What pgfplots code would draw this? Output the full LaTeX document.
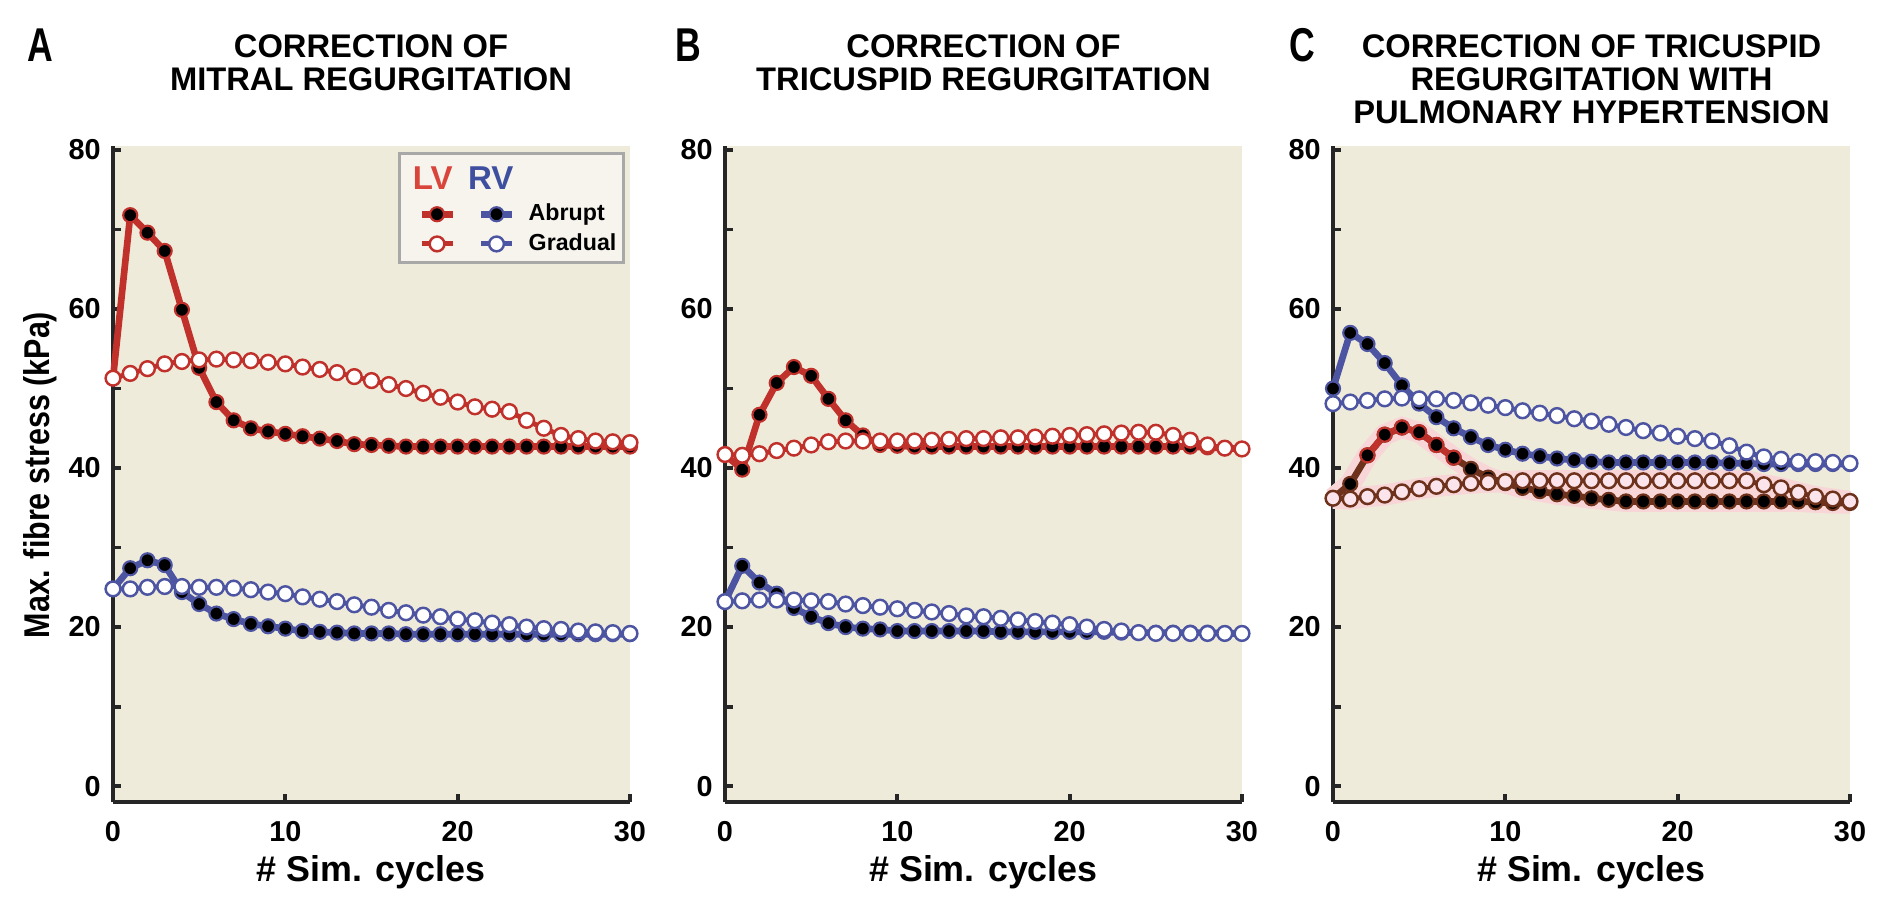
\documentclass[border=0pt]{standalone}
\usepackage{fontspec}
\setmainfont{Liberation Sans}
\newfontfamily\narrowfont[FakeStretch=0.75]{Liberation Sans}
\newfontfamily\ylabfont[FakeStretch=0.85]{Liberation Sans}
\usepackage{pgfplots}
\usepackage{pgfplotstable}
\pgfplotsset{compat=1.18}

\definecolor{bg}{HTML}{EFEBDB}
\definecolor{legfill}{HTML}{F6F4EC}
\definecolor{leggray}{HTML}{A8A8A8}
\definecolor{lvred}{HTML}{C1312C}
\definecolor{lvtext}{HTML}{D9443B}
\definecolor{rvblue}{HTML}{4D55A3}
\definecolor{rvtext}{HTML}{3E4FA0}
\definecolor{lvbrown}{HTML}{6E321C}
\definecolor{glow}{HTML}{F8D6D8}
\definecolor{pinkfill}{HTML}{FCE4EC}
\definecolor{axisgray}{HTML}{262626}

% x = simulation cycle, lva/lvg = LV abrupt/gradual, rva/rvg = RV abrupt/gradual
\pgfplotstableread{
x lva lvg rva rvg
0 51.3 51.3 24.8 24.8
1 71.8 51.9 27.4 24.8
2 69.6 52.5 28.4 25.0
3 67.3 53.1 27.8 25.1
4 59.9 53.4 24.4 25.1
5 52.6 53.6 22.9 25.0
6 48.3 53.7 21.7 25.0
7 46.0 53.6 21.0 24.9
8 45.0 53.5 20.4 24.7
9 44.6 53.3 20.1 24.4
10 44.3 53.1 19.8 24.2
11 44.0 52.7 19.5 23.8
12 43.7 52.4 19.4 23.5
13 43.4 52.0 19.3 23.2
14 43.0 51.5 19.2 22.8
15 42.9 51.0 19.2 22.5
16 42.8 50.5 19.2 22.1
17 42.7 50.0 19.1 21.8
18 42.7 49.4 19.1 21.5
19 42.7 48.9 19.1 21.3
20 42.7 48.3 19.1 21.0
21 42.7 47.7 19.1 20.8
22 42.7 47.4 19.1 20.5
23 42.7 47.1 19.1 20.3
24 42.7 46.0 19.1 20.0
25 42.7 45.0 19.1 19.8
26 42.7 44.1 19.1 19.7
27 42.7 43.7 19.1 19.5
28 42.7 43.4 19.1 19.4
29 42.7 43.3 19.1 19.3
30 42.7 43.2 19.1 19.2
}\dataA

\pgfplotstableread{
x lva lvg rva rvg
0 41.7 41.7 23.2 23.2
1 39.8 41.6 27.7 23.3
2 46.7 41.8 25.6 23.4
3 50.7 42.2 24.2 23.4
4 52.7 42.5 22.4 23.4
5 51.6 42.9 21.3 23.3
6 48.7 43.3 20.5 23.2
7 46.0 43.4 20.0 22.9
8 44.1 43.4 19.8 22.7
9 42.9 43.4 19.7 22.5
10 42.8 43.4 19.5 22.3
11 42.7 43.4 19.5 22.1
12 42.7 43.5 19.5 21.9
13 42.7 43.6 19.5 21.7
14 42.7 43.7 19.5 21.4
15 42.7 43.7 19.5 21.3
16 42.7 43.8 19.4 21.1
17 42.7 43.8 19.4 20.9
18 42.7 43.9 19.4 20.7
19 42.7 44.0 19.4 20.5
20 42.7 44.1 19.4 20.3
21 42.7 44.2 19.4 20.0
22 42.7 44.3 19.4 19.7
23 42.7 44.4 19.3 19.5
24 42.7 44.5 19.3 19.3
25 42.7 44.5 19.3 19.2
26 42.7 44.1 19.3 19.2
27 42.7 43.5 19.3 19.2
28 42.6 42.9 19.3 19.2
29 42.5 42.5 19.2 19.2
30 42.4 42.4 19.2 19.2
}\dataB

\pgfplotstableread{
x lva lvg rva rvg
0 36.2 36.2 50.0 48.1
1 38.0 36.1 57.0 48.3
2 41.6 36.4 55.6 48.5
3 44.2 36.6 53.2 48.7
4 45.1 37.0 50.4 48.8
5 44.5 37.4 48.1 48.7
6 42.9 37.7 46.4 48.7
7 41.3 37.9 45.0 48.5
8 39.9 38.1 43.9 48.2
9 38.8 38.2 42.9 47.9
10 38.1 38.3 42.3 47.6
11 37.5 38.4 41.8 47.2
12 37.1 38.4 41.5 46.9
13 36.7 38.4 41.2 46.6
14 36.5 38.4 41.0 46.2
15 36.2 38.4 40.8 45.9
16 36.0 38.4 40.7 45.5
17 35.8 38.4 40.7 45.1
18 35.8 38.4 40.7 44.7
19 35.8 38.4 40.7 44.4
20 35.8 38.4 40.7 44.0
21 35.8 38.4 40.7 43.7
22 35.8 38.4 40.7 43.4
23 35.8 38.4 40.6 42.8
24 35.8 38.4 40.6 42.0
25 35.8 37.9 40.5 41.4
26 35.8 37.5 40.5 41.1
27 35.8 36.9 40.5 40.8
28 35.7 36.4 40.5 40.8
29 35.6 36.1 40.5 40.7
30 35.6 35.8 40.5 40.6
}\dataC

\pgfplotsset{
  panel/.style={
    scale only axis, width=5.17cm, height=6.56cm,
    xmin=0, xmax=30, ymin=-2, ymax=80.5,
    axis x line*=bottom, axis y line*=left,
    axis line style={axisgray, line width=1.4pt},
    axis background/.style={fill=bg},
    xtick={0,10,20,30}, ytick={0,20,40,60,80}, minor ytick={10,30,50,70},
    tick align=inside, major tick length=2.2pt, minor tick length=2.2pt,
    every tick/.style={axisgray, line width=1.1pt},
    /pgf/number format/assume math mode=true,
    ticklabel style={font=\bfseries\fontsize{8.2}{9}\selectfont},
    xticklabel style={yshift=-2pt},
    clip=false,
  },
  lvA/.style={lvred, line width=1.9pt, mark=*, mark size=2.0pt,
    mark options={solid, fill=black, draw=lvred, line width=0.6pt}},
  lvG/.style={lvred, line width=1.4pt, mark=*, mark size=2.1pt,
    mark options={solid, fill=white, draw=lvred, line width=0.7pt}},
  rvA/.style={rvblue, line width=1.9pt, mark=*, mark size=2.0pt,
    mark options={solid, fill=black, draw=rvblue, line width=0.6pt}},
  rvG/.style={rvblue, line width=1.4pt, mark=*, mark size=2.1pt,
    mark options={solid, fill=white, draw=rvblue, line width=0.7pt}},
}

\begin{document}
\begin{tikzpicture}
\path[use as bounding box] (0,0) rectangle (18.9,9.03);

% ---- A
\begin{axis}[panel, at={(1.13cm,1.01cm)}, anchor=south west,
  legend columns=2, legend cell align=left,
  legend image code/.code={\draw[mark repeat=2,mark phase=2] plot coordinates {(0cm,0cm) (0.155cm,0cm) (0.31cm,0cm)};},
  legend style={draw=none, fill=none, inner sep=0pt, at={(axis cs:17.67,73.4)}, anchor=north west,
    row sep=2.15pt,
    nodes={inner xsep=2pt, inner ysep=0pt, text height=4.9pt, text depth=1.4pt,
      font=\bfseries\fontsize{6.6}{7}\selectfont}}]
\draw[fill=legfill, draw=leggray, line width=0.85pt] (axis cs:16.63,65.8) rectangle (axis cs:29.65,79.6);
\node[text=lvtext, font=\bfseries\fontsize{9.4}{10}\selectfont] at (axis cs:18.55,76.5) {LV};
\node[text=rvtext, font=\bfseries\fontsize{9.4}{10}\selectfont] at (axis cs:21.92,76.5) {RV};
\addlegendimage{lvA}\addlegendentry{\hspace*{2.2pt}}
\addlegendimage{rvA}\addlegendentry{\hspace*{1.8pt}Abrupt}
\addlegendimage{lvG}\addlegendentry{\hspace*{2.2pt}}
\addlegendimage{rvG}\addlegendentry{\hspace*{1.8pt}Gradual}
\addplot[rvA, forget plot] table[x=x, y=rva] {\dataA};
\addplot[rvG, forget plot] table[x=x, y=rvg] {\dataA};
\addplot[lvA, forget plot] table[x=x, y=lva] {\dataA};
\addplot[lvG, forget plot] table[x=x, y=lvg] {\dataA};
\end{axis}

% ---- B
\begin{axis}[panel, at={(7.25cm,1.01cm)}, anchor=south west]
\addplot[rvA] table[x=x, y=rva] {\dataB};
\addplot[rvG] table[x=x, y=rvg] {\dataB};
\addplot[lvA] table[x=x, y=lva] {\dataB};
\addplot[lvG] table[x=x, y=lvg] {\dataB};
\end{axis}

% ---- C
\begin{axis}[panel, at={(13.33cm,1.01cm)}, anchor=south west]
\addplot[rvA] table[x=x, y=rva] {\dataC};
\addplot[rvG] table[x=x, y=rvg] {\dataC};
\addplot[glow, line width=6pt, no marks] table[x=x, y=lva] {\dataC};
\addplot[glow, line width=6pt, no marks] table[x=x, y=lvg] {\dataC};
\addplot[lvA, lvbrown, mark options={solid, fill=black, draw=lvbrown, line width=0.6pt}] table[x=x, y=lva] {\dataC};
\addplot[lvA, restrict x to domain=1.5:7.5] table[x=x, y=lva] {\dataC};
\addplot[lvG, lvbrown, mark options={solid, fill=pinkfill, draw=lvbrown, line width=0.7pt}] table[x=x, y=lvg] {\dataC};
\end{axis}

% titles and labels
\begin{scope}[every node/.style={inner sep=0pt, font=\bfseries\fontsize{9.3}{9.4}\selectfont, align=center}]
\node[anchor=north] at (3.71,8.69) {CORRECTION OF\\MITRAL REGURGITATION};
\node[anchor=north] at (9.835,8.69) {CORRECTION OF\\TRICUSPID REGURGITATION};
\node[anchor=north] at (15.915,8.69) {CORRECTION OF TRICUSPID\\REGURGITATION WITH\\PULMONARY HYPERTENSION};
\end{scope}
\begin{scope}[every node/.style={font=\narrowfont\bfseries\fontsize{13.5}{14}\selectfont}]
\node at (0.40,8.58) {A};
\node at (6.88,8.58) {B};
\node at (13.02,8.58) {C};
\end{scope}
\begin{scope}[every node/.style={font=\bfseries\fontsize{10.2}{11}\selectfont}]
\node at (3.71,0.31) {\# Sim. cycles};
\node at (9.835,0.31) {\# Sim. cycles};
\node at (15.915,0.31) {\# Sim. cycles};
\node[rotate=90, font=\ylabfont\bfseries\fontsize{10.2}{11}\selectfont] at (0.40,4.28) {Max. fibre stress (kPa)};
\end{scope}
\end{tikzpicture}
\end{document}
